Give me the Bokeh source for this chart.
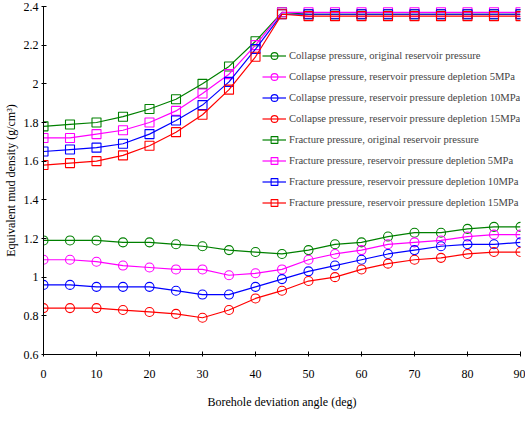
from bokeh.plotting import figure
from bokeh.models import Legend, LegendItem, FixedTicker, CustomJSTickFormatter
from bokeh.embed import file_html
from bokeh.resources import INLINE

angle = [0, 5, 10, 15, 20, 25, 30, 35, 40, 45, 50, 55, 60, 65, 70, 75, 80, 85, 90]

collapse_orig = [1.19, 1.19, 1.19, 1.18, 1.18, 1.17, 1.16, 1.14, 1.13, 1.12, 1.14, 1.17, 1.18, 1.21, 1.23, 1.23, 1.25, 1.26, 1.26]
collapse_5 = [1.09, 1.09, 1.08, 1.06, 1.05, 1.04, 1.04, 1.01, 1.02, 1.04, 1.09, 1.12, 1.14, 1.17, 1.18, 1.19, 1.21, 1.22, 1.22]
collapse_10 = [0.96, 0.96, 0.95, 0.95, 0.95, 0.93, 0.91, 0.91, 0.95, 0.99, 1.03, 1.06, 1.09, 1.12, 1.14, 1.16, 1.17, 1.17, 1.18]
collapse_15 = [0.84, 0.84, 0.84, 0.83, 0.82, 0.81, 0.79, 0.83, 0.89, 0.93, 0.98, 1.00, 1.04, 1.07, 1.09, 1.10, 1.12, 1.13, 1.13]

fracture_orig = [1.78, 1.79, 1.80, 1.83, 1.87, 1.92, 2.00, 2.09, 2.22, 2.37, 2.36, 2.36, 2.36, 2.36, 2.36, 2.36, 2.36, 2.36, 2.36]
fracture_5 = [1.72, 1.72, 1.74, 1.76, 1.80, 1.86, 1.95, 2.05, 2.20, 2.37, 2.37, 2.37, 2.37, 2.37, 2.37, 2.37, 2.37, 2.37, 2.37]
fracture_10 = [1.65, 1.66, 1.67, 1.69, 1.74, 1.81, 1.89, 2.01, 2.18, 2.36, 2.36, 2.36, 2.36, 2.36, 2.36, 2.36, 2.36, 2.36, 2.36]
fracture_15 = [1.58, 1.59, 1.60, 1.63, 1.68, 1.75, 1.84, 1.97, 2.14, 2.36, 2.35, 2.35, 2.35, 2.35, 2.35, 2.35, 2.35, 2.35, 2.35]

labels = [
    "Collapse pressure, original reservoir pressure",
    "Collapse pressure, reservoir pressure depletion 5MPa",
    "Collapse pressure, reservoir pressure depletion 10MPa",
    "Collapse pressure, reservoir pressure depletion 15MPa",
    "Fracture pressure, original reservoir pressure",
    "Fracture pressure, reservoir pressure depletion 5MPa",
    "Fracture pressure, reservoir pressure depletion 10MPa",
    "Fracture pressure, reservoir pressure depletion 15MPa",
]
series = [collapse_orig, collapse_5, collapse_10, collapse_15,
          fracture_orig, fracture_5, fracture_10, fracture_15]
colors = ["#008000", "#FF00FF", "#0000FF", "#FF0000"] * 2
markers = ["circle"] * 4 + ["square"] * 4

y_ticks = [0.6, 0.8, 1.0, 1.2, 1.4, 1.6, 1.8, 2.0, 2.2, 2.4]
x_ticks = [0, 10, 20, 30, 40, 50, 60, 70, 80, 90]

FONT = "Liberation Serif"

p = figure(frame_width=477, frame_height=348, output_backend="svg", toolbar_location=None,
           x_range=(0, 90), y_range=(0.6, 2.4),
           min_border_left=38, min_border_right=5, min_border_top=6, min_border_bottom=54)
p.outline_line_color = None
p.xgrid.grid_line_color = None
p.ygrid.grid_line_color = None

items = []
for lab, ys, c, m in zip(labels, series, colors, markers):
    r1 = p.line(angle, ys, line_color=c, line_width=1.2)
    r2 = p.scatter(angle, ys, marker=m, size=9, line_color=c, fill_color=None, line_width=1.1)
    items.append(LegendItem(label=lab, renderers=[r1, r2]))

legend = Legend(items=items, location=(219, 143), padding=0, margin=0,
                border_line_color=None, background_fill_alpha=0,
                glyph_width=24, glyph_height=17, label_height=17, spacing=4,
                label_standoff=3, label_text_font=FONT, label_text_font_size="10.6px")
p.add_layout(legend)

p.xaxis.ticker = FixedTicker(ticks=x_ticks)
p.yaxis.ticker = FixedTicker(ticks=y_ticks)
p.yaxis.formatter = CustomJSTickFormatter(code="return (Math.round(tick*10)/10).toString();")
p.xaxis.minor_tick_line_color = None
p.yaxis.minor_tick_line_color = None
for ax in (p.xaxis, p.yaxis):
    ax.axis_line_color = "black"
    ax.major_tick_line_color = "black"
    ax.major_tick_in = 3
    ax.major_tick_out = 2
    ax.major_label_text_font = FONT
    ax.major_label_text_font_size = "12px"
    ax.major_label_text_color = "black"
    ax.axis_label_text_font = FONT
    ax.axis_label_text_font_style = "normal"
    ax.axis_label_text_font_size = "12px"
    ax.axis_label_text_color = "black"

p.xaxis.major_label_standoff = 13
p.xaxis.axis_label_standoff = 14
p.yaxis.major_label_standoff = 3
p.yaxis.axis_label_standoff = 3
p.xaxis.axis_label = "Borehole deviation angle (deg)"
p.yaxis.axis_label = "Equivalent mud density (g/cm\u00b3)"

open("out.html", "w").write(file_html(p, INLINE))
